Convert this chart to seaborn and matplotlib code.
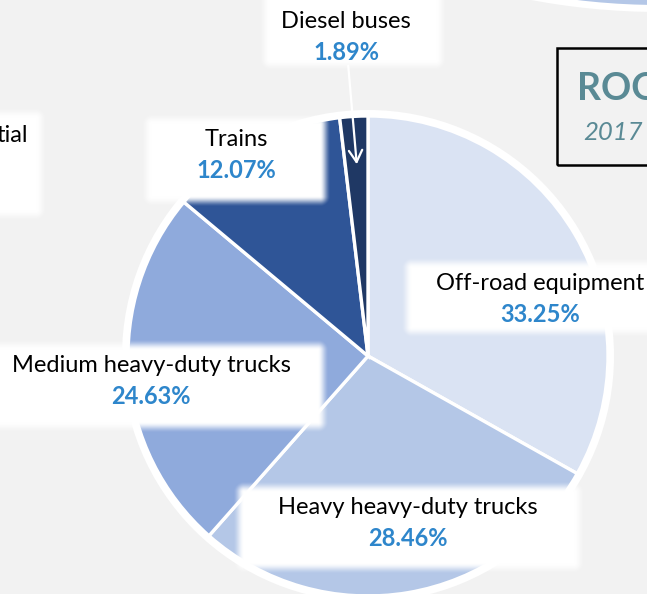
import numpy as np
import matplotlib.pyplot as plt
import seaborn as sns
from matplotlib.patches import Circle, Rectangle

W, H = 647, 594

categories = ["Off-road equipment", "Heavy heavy-duty trucks", "Medium heavy-duty trucks",
              "Trains", "Diesel buses"]
shares = [33.25, 28.46, 24.63, 12.07, 1.89]
slice_colors = ["#dae3f3", "#b4c7e7", "#8faadc", "#2f5597", "#1f3864"]

# label centres (pixel coords, y down) and the white boxes behind them
label_pos = {
    "Off-road equipment": (540, 283),
    "Heavy heavy-duty trucks": (408, 508),
    "Medium heavy-duty trucks": (151, 365),
    "Trains": (236, 140),
    "Diesel buses": (346, 22),
}
label_boxes = [
    (270, -10, 436, 60),
    (152, 124, 320, 196),
    (412, 268, 660, 327),
    (-10, 350, 318, 422),
    (244, 492, 574, 563),
    (-10, 118, 36, 210),
]

sns.set_theme(style="white")
plt.rcParams['font.family'] = ['Lato', 'DejaVu Sans']

fig = plt.figure(figsize=(6.47, 5.94), dpi=100, facecolor="#f2f2f2")
ax = fig.add_axes([0, 0, 1, 1])
ax.set_facecolor("#f2f2f2")

cx, cy, r = 368, H - 356, 240

# partial circle at top right corner (neighbouring chart)
ax.add_patch(Circle((660, H + 686), 698, fc="white", ec="none", zorder=1))
ax.add_patch(Circle((660, H + 686), 691, fc="#b4c7e7", ec="none", zorder=1))

# white ring behind the pie
ax.add_patch(Circle((cx, cy), r + 6, fc="white", ec="none", zorder=1))
wedges, _ = ax.pie(shares, colors=slice_colors, startangle=90, counterclock=False,
                   center=(cx, cy), radius=r,
                   wedgeprops=dict(edgecolor="white", linewidth=2.4, zorder=2))


def glow_box(x0, y0, x1, y1, fade=11):
    nx = int(x1 - x0 + 2 * fade)
    ny = int(y1 - y0 + 2 * fade)
    xs = np.arange(nx) + 0.5 - fade
    ys = np.arange(ny) + 0.5 - fade
    dx = np.maximum(np.maximum(-xs, xs - (x1 - x0)), 0)
    dy = np.maximum(np.maximum(-ys, ys - (y1 - y0)), 0)
    d = np.hypot(dx[None, :], dy[:, None])
    a = np.clip(1 - d / fade, 0, 1)
    img = np.ones((ny, nx, 4))
    img[..., 3] = a * a * (3 - 2 * a)
    ax.imshow(img, extent=(x0 - fade, x1 + fade, H - (y1 + fade), H - (y0 - fade)),
              origin="upper", zorder=3, interpolation="bilinear")


for b in label_boxes:
    glow_box(*b)

for name, val in zip(categories, shares):
    px, py = label_pos[name]
    ax.text(px, H - py, name, ha="center", va="center", fontsize=17,
            color="black", zorder=4)
    ax.text(px, H - py - 31, f"{val:.2f}%", ha="center", va="center", fontsize=17,
            fontweight="bold", color="#2e86cb", zorder=4)

# cut-off label on the far left
ax.text(28, H - 135, "tial", ha="right", va="center", fontsize=17, color="black", zorder=4)

# leader arrow for the small slice
ax.annotate("", xy=(357, H - 167), xytext=(348, H - 63),
            arrowprops=dict(arrowstyle="->,head_length=0.7,head_width=0.4",
                            color="white", lw=1.6), zorder=5)

# title box on the right edge
ax.add_patch(Rectangle((557, H - 165), 130, 117, fill=False, ec="black", lw=1.8, zorder=4))
ax.text(577, H - 89, "ROO", ha="left", va="center", fontsize=27, fontweight="bold",
        color="#5a8a95", zorder=4)
ax.text(583, H - 133, "2017", ha="left", va="center", fontsize=18.5, fontstyle="italic",
        color="#5a8a95", zorder=4)

ax.set_xlim(0, W)
ax.set_ylim(0, H)
ax.set_aspect("equal")
ax.axis("off")

fig.savefig("out.png", dpi=100, facecolor=fig.get_facecolor())
